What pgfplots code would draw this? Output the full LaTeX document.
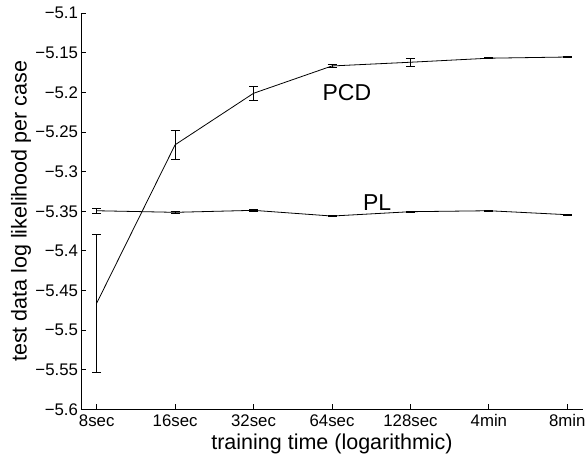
\documentclass[border=0pt]{standalone}
\usepackage{pgfplots}
\pgfplotsset{compat=1.18}
\usepackage{fontspec}
\setmainfont{Liberation Sans}

\begin{document}
\begin{tikzpicture}
\begin{axis}[
    name=ax,
    scale only axis, width=502pt, height=396pt,
    xmin=-0.2, xmax=6.2, ymin=-5.6, ymax=-5.1,
    axis x line*=bottom, axis y line*=left,
    axis line style={line width=0.8pt},
    tick align=inside, major tick length=5pt,
    tick style={line width=0.8pt, black},
    xtick={0,1,2,3,4,5,6},
    xticklabels={8sec,16sec,32sec,64sec,128sec,4min,8min},
    ytick={-5.6,-5.55,-5.5,-5.45,-5.4,-5.35,-5.3,-5.25,-5.2,-5.15,-5.1},
    yticklabels={−5.6,−5.55,−5.5,−5.45,−5.4,−5.35,−5.3,−5.25,−5.2,−5.15,−5.1},
    ticklabel style={font=\fontsize{16.8}{19}\selectfont},
    yticklabel style={xshift=0.5pt},
    xticklabel style={yshift=-1.5pt},
    xlabel={training time (logarithmic)},
    ylabel={test data log likelihood per case},
    label style={font=\fontsize{21.5}{24}\selectfont},
    xlabel style={at={(axis description cs:0.5,-0.088)}, anchor=center},
    ylabel style={at={(axis description cs:-0.1195,0.5)}, anchor=center},
    error bars/error bar style={line width=0.8pt, black},
    error bars/error mark options={black, mark size=4.5pt, line width=0.8pt, rotate=90},
]
% PCD
\addplot[black, line width=0.8pt, mark=none,
    error bars/.cd, y dir=both, y explicit]
coordinates {
    (0,-5.466) +- (0,0.087)
    (1,-5.266) +- (0,0.018)
    (2,-5.201) +- (0,0.009)
    (3,-5.1665) +- (0,0.0015)
    (4,-5.1618) +- (0,0.005)
    (5,-5.1567) +- (0,0.0008)
    (6,-5.1552) +- (0,0.0008)
};
% PL
\addplot[black, line width=0.8pt, mark=none,
    error bars/.cd, y dir=both, y explicit]
coordinates {
    (0,-5.3493) +- (0,0.003)
    (1,-5.3513) +- (0,0.0015)
    (2,-5.3488) +- (0,0.0008)
    (3,-5.356) +- (0,0.0008)
    (4,-5.3505) +- (0,0.0008)
    (5,-5.3493) +- (0,0.0008)
    (6,-5.3543) +- (0,0.0008)
};
\node[font=\fontsize{23}{26}\selectfont] at (axis cs:3.19,-5.1995) {PCD};
\node[font=\fontsize{23}{26}\selectfont] at (axis cs:3.575,-5.339) {PL};
\end{axis}
\pgfresetboundingbox
\path[use as bounding box] ([xshift=-81pt,yshift=-44pt]ax.south west) rectangle ([xshift=5pt,yshift=13.3pt]ax.north east);
\end{tikzpicture}
\end{document}
